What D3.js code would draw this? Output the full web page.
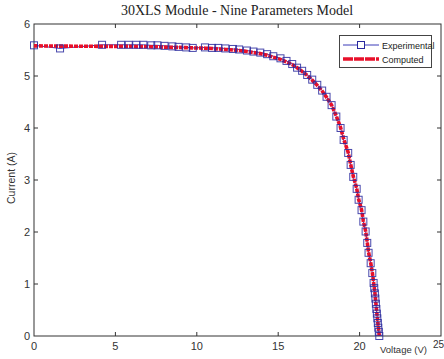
<!DOCTYPE html>
<html>
<head>
<meta charset="utf-8">
<script src="https://cdn.jsdelivr.net/npm/d3@7"></script>
<style>
  body { margin: 0; background: #fff; }
  svg { display: block; }
</style>
</head>
<body>
<script>
// voltage (V) of each measured point
const voltage = [0, 1.6, 4.18, 5.35, 5.82, 6.28, 6.72, 7.2, 7.58, 8.02,
  8.5, 8.88, 9.35, 9.75, 10.5, 10.94, 11.32, 11.75, 12.22, 12.6,
  13.08, 13.48, 13.9, 14.32, 14.7, 15.14, 15.51, 15.86, 16.16, 16.47,
  16.78, 17.09, 17.4, 17.7, 17.97, 18.28, 18.57, 18.83, 19.02, 19.30,
  19.45, 19.61, 19.82, 19.94, 20.12, 20.23, 20.37, 20.47, 20.55, 20.68,
  20.78, 20.86, 20.9, 20.94, 20.97, 21.0, 21.03, 21.06, 21.09, 21.12,
  21.15, 21.18, 21.21];
// measured current (A)
const experimental = [5.59, 5.53, 5.60, 5.60, 5.60, 5.60, 5.60, 5.59, 5.59, 5.58,
  5.57, 5.56, 5.55, 5.54, 5.55, 5.54, 5.54, 5.53, 5.52, 5.51,
  5.49, 5.47, 5.45, 5.42, 5.38, 5.34, 5.29, 5.23, 5.16, 5.10,
  5.02, 4.93, 4.83, 4.72, 4.60, 4.44, 4.22, 4.00, 3.77, 3.52,
  3.29, 3.06, 2.83, 2.62, 2.42, 2.20, 2.01, 1.79, 1.60, 1.40,
  1.21, 1.02, 0.92, 0.82, 0.72, 0.62, 0.52, 0.43, 0.34, 0.25,
  0.16, 0.08, 0.0];
// model current (A)
const computed = [5.58, 5.575, 5.57, 5.57, 5.57, 5.565, 5.565, 5.56, 5.56, 5.555,
  5.55, 5.55, 5.545, 5.54, 5.535, 5.53, 5.52, 5.51, 5.50, 5.49,
  5.47, 5.45, 5.43, 5.40, 5.36, 5.32, 5.27, 5.22, 5.16, 5.09,
  5.01, 4.92, 4.82, 4.71, 4.59, 4.44, 4.23, 4.01, 3.79, 3.53,
  3.30, 3.07, 2.84, 2.63, 2.43, 2.21, 2.02, 1.80, 1.61, 1.41,
  1.22, 1.03, 0.93, 0.83, 0.73, 0.63, 0.53, 0.44, 0.35, 0.26,
  0.17, 0.08, 0.0];
const xTicks = [0, 5, 10, 15, 20, 25];
const yTicks = [0, 1, 2, 3, 4, 5, 6];
const seriesNames = ["Experimental", "Computed"];

const W = 444, H = 359;
const margin = {top: 24, right: 3, bottom: 23, left: 34};

const svg = d3.select("body").append("svg")
  .attr("width", W)
  .attr("height", H);

const x = d3.scaleLinear().domain([0, 25]).range([margin.left, W - margin.right]);
const y = d3.scaleLinear().domain([0, 6]).range([H - margin.bottom, margin.top]);

const axisColor = "#333";

// frame
svg.append("rect")
  .attr("x", x(0)).attr("y", y(6))
  .attr("width", x(25) - x(0)).attr("height", y(0) - y(6))
  .attr("fill", "none").attr("stroke", axisColor).attr("stroke-width", 1);

// inward ticks on all four sides
const tickLen = 4;
xTicks.slice(1, -1).forEach(t => {
  svg.append("line").attr("x1", x(t)).attr("x2", x(t))
    .attr("y1", y(0)).attr("y2", y(0) - tickLen).attr("stroke", axisColor);
  svg.append("line").attr("x1", x(t)).attr("x2", x(t))
    .attr("y1", y(6)).attr("y2", y(6) + tickLen).attr("stroke", axisColor);
});
yTicks.slice(1, -1).forEach(t => {
  svg.append("line").attr("x1", x(0)).attr("x2", x(0) + tickLen)
    .attr("y1", y(t)).attr("y2", y(t)).attr("stroke", axisColor);
  svg.append("line").attr("x1", x(25)).attr("x2", x(25) - tickLen)
    .attr("y1", y(t)).attr("y2", y(t)).attr("stroke", axisColor);
});

// tick labels (last one kept inside the window)
svg.append("g").selectAll("text")
  .data(xTicks)
  .enter().append("text")
  .attr("x", d => d === 25 ? W : x(d))
  .attr("y", d => d === 25 ? y(0) + 12 : y(0) + 14)
  .attr("text-anchor", d => d === 25 ? "end" : "middle")
  .attr("font-family", "Liberation Sans, Arial, sans-serif")
  .attr("font-size", d => d === 25 ? 10 : 11)
  .attr("fill", "#333")
  .text(d => d);

svg.append("g").selectAll("text")
  .data(yTicks)
  .enter().append("text")
  .attr("x", x(0) - 4)
  .attr("y", d => y(d) + 4)
  .attr("text-anchor", "end")
  .attr("font-family", "Liberation Sans, Arial, sans-serif")
  .attr("font-size", 11)
  .attr("fill", "#333")
  .text(d => d);

// title and axis labels
svg.append("text")
  .attr("x", 237).attr("y", 15)
  .attr("text-anchor", "middle")
  .attr("font-family", "Liberation Serif, Times New Roman, serif")
  .attr("font-size", 14)
  .attr("fill", "#222")
  .text("30XLS Module - Nine Parameters Model");

svg.append("text")
  .attr("x", 380).attr("y", 353)
  .attr("font-family", "Liberation Sans, Arial, sans-serif")
  .attr("font-size", 9.5)
  .attr("fill", "#333")
  .text("Voltage (V)");

svg.append("text")
  .attr("transform", "translate(15,178) rotate(-90)")
  .attr("text-anchor", "middle")
  .attr("font-family", "Liberation Sans, Arial, sans-serif")
  .attr("font-size", 10.5)
  .attr("fill", "#333")
  .text("Current (A)");

// series
const expData = voltage.map((v, i) => ({v: v, c: experimental[i]}));
const compData = voltage.map((v, i) => ({v: v, c: computed[i]}));

const line = d3.line().x(d => x(d.v)).y(d => y(d.c));

svg.append("path")
  .datum(expData)
  .attr("d", line)
  .attr("fill", "none")
  .attr("stroke", "#3a3ab8")
  .attr("stroke-width", 1);

svg.append("path")
  .datum(compData)
  .attr("d", line)
  .attr("fill", "none")
  .attr("stroke", "#e8102a")
  .attr("stroke-width", 3.6)
  .attr("stroke-dasharray", "4,1");

const sq = 7;
svg.append("g").selectAll("rect")
  .data(expData)
  .enter().append("rect")
  .attr("x", d => x(d.v) - sq / 2)
  .attr("y", d => y(d.c) - sq / 2)
  .attr("width", sq).attr("height", sq)
  .attr("fill", "none")
  .attr("stroke", "#28289e")
  .attr("stroke-opacity", 0.85)
  .attr("stroke-width", 1);

// legend
const lg = svg.append("g");
lg.append("rect")
  .attr("x", 339.5).attr("y", 35.5)
  .attr("width", 92).attr("height", 32)
  .attr("fill", "#fff")
  .attr("stroke", "#444");

lg.append("line")
  .attr("x1", 343).attr("x2", 379).attr("y1", 45).attr("y2", 45)
  .attr("stroke", "#3a3ab8").attr("stroke-width", 1);
lg.append("rect")
  .attr("x", 361 - sq / 2).attr("y", 45 - sq / 2)
  .attr("width", sq).attr("height", sq)
  .attr("fill", "#fff").attr("stroke", "#28289e");
lg.append("line")
  .attr("x1", 343).attr("x2", 379).attr("y1", 59).attr("y2", 59)
  .attr("stroke", "#e8102a").attr("stroke-width", 3.6)
  .attr("stroke-dasharray", "10,1");

lg.selectAll("text.lab")
  .data(seriesNames)
  .enter().append("text")
  .attr("class", "lab")
  .attr("x", 382)
  .attr("y", (d, i) => 48.5 + i * 14)
  .attr("font-family", "Liberation Sans, Arial, sans-serif")
  .attr("font-size", 9)
  .attr("fill", "#222")
  .text(d => d);
</script>
</body>
</html>
